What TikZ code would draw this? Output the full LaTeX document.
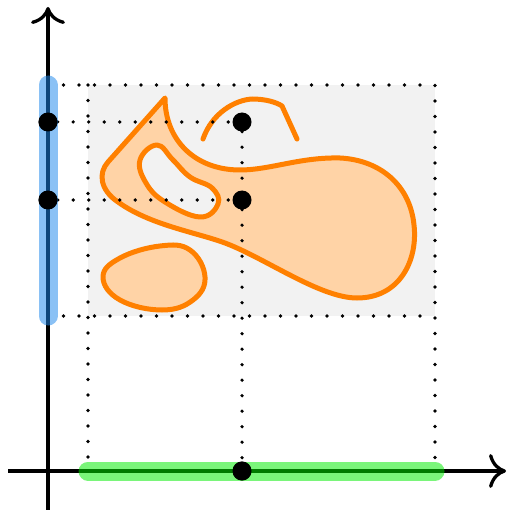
\documentclass[tikz,border=0pt]{standalone}
\usepackage{tikz}
\usetikzlibrary{arrows.meta}
\definecolor{barblue}{RGB}{30,136,235}
\definecolor{bargreen}{RGB}{0,235,0}
\definecolor{blobline}{RGB}{255,128,0}
\definecolor{blobfill}{RGB}{255,211,166}
\definecolor{boxgray}{RGB}{242,242,242}
\tikzset{dotline/.style={line width=3.6pt,line cap=round,dash pattern=on 0pt off 15.5pt},
pt/.style={circle,fill=black,inner sep=0pt,minimum size=19pt},
bar/.style={line width=19pt,line cap=round,opacity=0.52},
blob/.style={line width=5pt,draw=blobline,fill=blobfill,line join=round}}

\begin{document}
\begin{tikzpicture}[x=1pt,y=-1pt,>={Computer Modern Rightarrow[length=17pt,width=34pt]}]
\useasboundingbox (0,0) rectangle (507,510);
\coordinate (O) at (48,471);
\coordinate (A) at (88,85);
\coordinate (B) at (435,85);
\coordinate (C) at (88,316);
\coordinate (D) at (435,316);
\coordinate (Y1) at (48,85);
\coordinate (Y2) at (48,316);
\coordinate (X1) at (88,471);
\coordinate (X2) at (435,471);
%\coordinate (E) at (242,316);
\fill[boxgray] (A) rectangle (D);
% shapes
\draw[blob,even odd rule] (165,98) -- (108,162)
 .. controls (98,173) and (100,190) .. (118,202)
 .. controls (150,225) and (195,232) .. (225,243)
 .. controls (265,258) and (320,298) .. (357,298)
 .. controls (400,298) and (418,260) .. (414,225)
 .. controls (410,185) and (380,160) .. (340,158)
 .. controls (300,157) and (270,170) .. (240,170)
 .. controls (195,170) and (165,140) .. (165,98) -- cycle
 plot[smooth cycle,tension=0.7] coordinates {(157,145) (140,160) (146,183) (165,202) (200,217) (218,204) (212,188) (190,177) (173,160)};
\draw[blob] plot[smooth cycle,tension=0.7] coordinates {(103,277) (120,258) (160,246) (190,250) (205,277) (193,300) (162,310) (120,300)};
\draw[blobline,line width=5pt,line cap=round,line join=round] (203,139) .. controls (212,113) and (235,100) .. (252,99)
 .. controls (265,99) and (276,102) .. (282,106) -- (297,139);
% axes
\draw[line width=3.3pt,->] (48,510)--(48,7);
\draw[line width=3.3pt,->] (8,471)--(506,471);
% points
\node[pt] (p1) at (48,122) {};
\node[pt] (p2) at (48,200) {};
\node[pt] (q1) at (242,122) {};
\node[pt] (q2) at (242,200) {};
\node[pt] (q0) at (242,471) {};
% dotted lines
\draw[dotline] (Y1)--(B)--(X2);
\draw[dotline] (A)--(X1);
\draw[dotline] (Y2)--(D);
\draw[dotline] (p1)--(q1)--(q2)--(q0);
\draw[dotline] (p2)--(q2);
% bars
\draw[bar,barblue] (Y1)--(Y2);
\draw[bar,bargreen] (X1)--(X2);
\node[pt] at (p1) {};
\node[pt] at (p2) {};
\node[pt] at (q0) {};
\end{tikzpicture}
\end{document}
